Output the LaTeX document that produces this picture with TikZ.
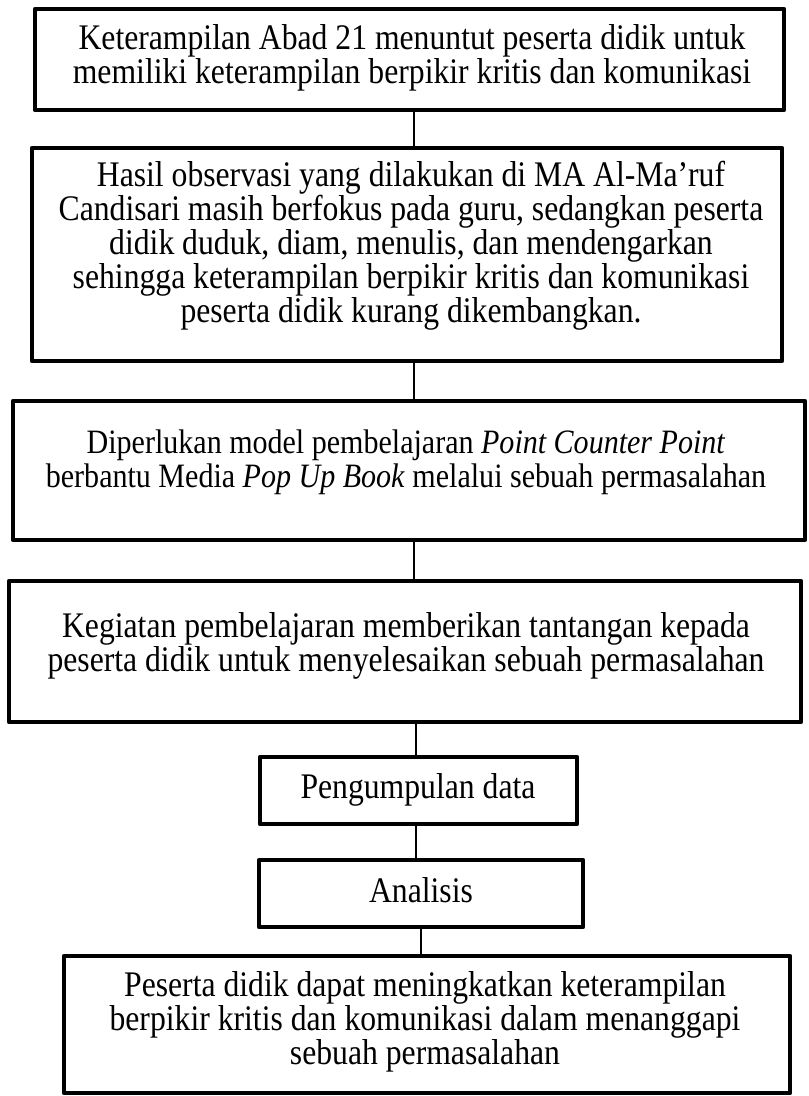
\documentclass[tikz,border=0pt]{standalone}
\usepackage{fontspec}
\setmainfont[FakeStretch=0.88]{Liberation Serif}
\begin{document}
\begin{tikzpicture}[x=0.75pt,y=-0.75pt,
  flowbox/.style={draw, line width=3.2pt, line join=round, inner sep=0pt},
  conn/.style={draw, line width=0.9pt},
  txt/.style={align=center, inner sep=0pt, font=\fontsize{27}{25.5}\selectfont}]
\useasboundingbox (0,0) rectangle (808,1096);
% boxes
\node[flowbox, minimum width=561.75pt, minimum height=75.75pt] (b1) at (409.5,59.5) {};
\node[flowbox, minimum width=562.5pt, minimum height=159.75pt] (b2) at (407,254.5) {};
\node[flowbox, minimum width=594pt, minimum height=104.25pt] (b3) at (409,470.5) {};
\node[flowbox, minimum width=594pt, minimum height=105.75pt] (b4) at (405,651.5) {};
\node[flowbox, minimum width=237.75pt, minimum height=50.25pt] (b5) at (418.5,790.5) {};
\node[flowbox, minimum width=243pt, minimum height=50.25pt] (b6) at (421,893.5) {};
\node[flowbox, minimum width=544.5pt, minimum height=102.75pt] (b7) at (427,1024.5) {};
% texts
\node[txt] (t1) at (412,58) {Keterampilan Abad 21 menuntut peserta didik untuk\\memiliki keterampilan berpikir kritis dan komunikasi};
\node[txt] (t2) at (411,246) {Hasil observasi yang dilakukan di MA Al-Ma’ruf\\Candisari masih berfokus pada guru, sedangkan peserta\\didik duduk, diam, menulis, dan mendengarkan\\sehingga keterampilan berpikir kritis dan komunikasi\\peserta didik kurang dikembangkan.};
\node[txt, font=\fontsize{25.6}{25.5}\selectfont] (t3) at (406,462) {Diperlukan model pembelajaran \textit{Point Counter Point}\\berbantu Media \textit{Pop Up Book} melalui sebuah permasalahan};
\node[txt] (t4) at (406,646) {Kegiatan pembelajaran memberikan tantangan kepada\\peserta didik untuk menyelesaikan sebuah permasalahan};
\node[txt] (t5) at (418,790) {Pengumpulan data};
\node[txt] (t6) at (421,890) {Analisis};
\node[txt] (t7) at (425,1022) {Peserta didik dapat meningkatkan keterampilan\\berpikir kritis dan komunikasi dalam menanggapi\\sebuah permasalahan};
% connectors
\coordinate (xa) at (414,0);
\coordinate (xb) at (416,0);
\coordinate (xc) at (421,0);
\draw[conn] (b1.south -| xa) -- (b2.north -| xa);
\draw[conn] (b2.south -| xa) -- (b3.north -| xa);
\draw[conn] (b3.south -| xa) -- (b4.north -| xa);
\draw[conn] (b4.south -| xb) -- (b5.north -| xb);
\draw[conn] (b5.south -| xb) -- (b6.north -| xb);
\draw[conn] (b6.south -| xc) -- (b7.north -| xc);
\end{tikzpicture}
\end{document}
